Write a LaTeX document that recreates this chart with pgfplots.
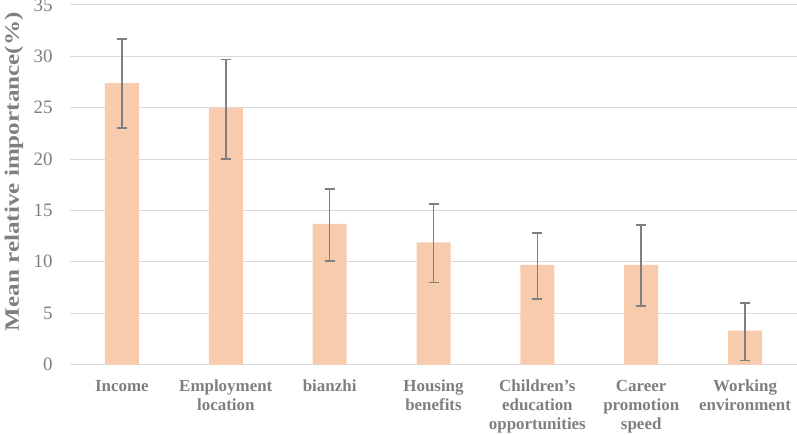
\documentclass[border=0pt]{standalone}
\usepackage{fontspec}
\setmainfont{Liberation Serif}
\usepackage{pgfplots}
\pgfplotsset{compat=1.18}
\definecolor{barfill}{HTML}{F8CBAD}
\definecolor{errgray}{HTML}{7F7F7F}
\definecolor{gridgray}{HTML}{D9D9D9}
\definecolor{txtgray}{HTML}{7F7F7F}
\begin{document}
\begin{tikzpicture}
\begin{axis}[
    scale only axis,
    width=727bp, height=359.5bp,
    xmin=-0.5, xmax=6.5, ymin=0, ymax=35,
    ybar, bar width=34bp,
    ytick={0,5,...,35},
    xtick={0,...,6},
    xticklabels={Income, {Employment\\location}, bianzhi, {Housing\\benefits},
      {Children’s\\education\\opportunities}, {Career\\promotion\\speed},
      {Working\\environment}},
    ymajorgrids,
    major grid style={draw=gridgray, line width=1bp},
    axis line style={draw=none},
    major tick length=0pt,
    /pgf/number format/assume math mode=true,
    yticklabel style={font=\fontsize{19}{22}\selectfont, text=txtgray, xshift=-14bp},
    xticklabel style={font=\fontsize{17}{19}\selectfont\bfseries, text=txtgray,
      align=center, yshift=-12bp},
    ylabel={\bfseries Mean relative importance(\%)},
    ylabel style={font=\fontsize{20.5}{24}\selectfont, text=txtgray,
      at={(axis description cs:-0.077,0.536)}, anchor=center, xscale=1.23},
]
\addplot[fill=barfill, draw=none,
    error bars/.cd, y dir=both, y explicit,
    error bar style={line width=1.6bp, draw=errgray},
    error mark options={rotate=90, mark size=5bp, line width=1.6bp, draw=errgray}]
  coordinates {
    (0,27.4) += (0,4.3) -= (0,4.4)
    (1,25.0) += (0,4.7) -= (0,5.0)
    (2,13.7) += (0,3.4) -= (0,3.6)
    (3,11.9) += (0,3.7) -= (0,3.9)
    (4,9.7)  += (0,3.1) -= (0,3.3)
    (5,9.7)  += (0,3.9) -= (0,4.0)
    (6,3.3)  += (0,2.7) -= (0,2.9)
  };
\coordinate (sw) at (rel axis cs:0,0);
\coordinate (ne) at (rel axis cs:1,1);
\end{axis}
\pgfresetboundingbox
\path[use as bounding box] ([shift={(-70bp,-70bp)}]sw) rectangle ([shift={(0bp,5bp)}]ne);
\end{tikzpicture}
\end{document}
